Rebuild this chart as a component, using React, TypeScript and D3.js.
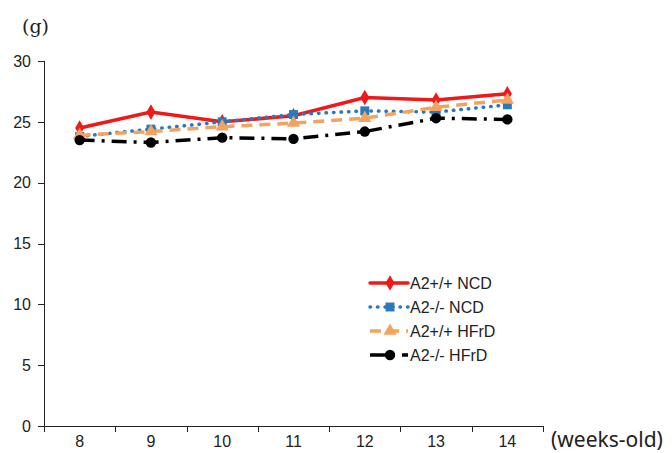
import { useEffect, useRef } from 'react';
import {
  select,
  scaleBand,
  scaleLinear,
  line,
  symbol,
  symbolDiamond,
  symbolSquare,
  symbolTriangle,
  symbolCircle,
} from 'd3';

const weeks = ['8', '9', '10', '11', '12', '13', '14'];
const yTicks = [0, 5, 10, 15, 20, 25, 30];

const a2WtNcd = [24.5, 25.8, 25.0, 25.5, 27.0, 26.8, 27.3];
const a2KoNcd = [23.8, 24.4, 25.0, 25.6, 25.9, 25.8, 26.4];
const a2WtHfrd = [23.9, 24.2, 24.6, 24.9, 25.3, 26.2, 26.8];
const a2KoHfrd = [23.5, 23.3, 23.7, 23.6, 24.2, 25.3, 25.2];

const seriesNames = ['A2+/+ NCD', 'A2-/- NCD', 'A2+/+ HFrD', 'A2-/- HFrD'];

interface SeriesStyle {
  color: string;
  dash: string | null;
  cap: string;
  shape: any;
  size: number;
}

const styles: SeriesStyle[] = [
  { color: '#f01818', dash: null, cap: 'round', shape: symbolDiamond, size: 70 },
  { color: '#2a78bd', dash: '0.5 7', cap: 'round', shape: symbolSquare, size: 80 },
  { color: '#f4a25e', dash: '11 7', cap: 'butt', shape: symbolTriangle, size: 75 },
  { color: '#000000', dash: '15 7 3 7', cap: 'butt', shape: symbolCircle, size: 85 },
];

export default function App() {
  const svgRef = useRef<SVGSVGElement | null>(null);

  useEffect(() => {
    if (!svgRef.current) return;
    const svg = select(svgRef.current);
    svg.selectAll('*').remove();

    const width = 672;
    const height = 453;
    const margin = { top: 61, right: 129, bottom: 27, left: 44 };
    const font = 'Liberation Sans, Arial, sans-serif';
    const allSeries = [a2WtNcd, a2KoNcd, a2WtHfrd, a2KoHfrd];

    const x = scaleBand<string>()
      .domain(weeks)
      .range([margin.left, width - margin.right])
      .padding(0);
    const y = scaleLinear()
      .domain([0, 30])
      .range([height - margin.bottom, margin.top]);
    const cx = (w: string) => (x(w) ?? 0) + x.bandwidth() / 2;

    // axes
    const axis = svg.append('g').attr('stroke', '#222').attr('stroke-width', 1);
    axis
      .append('line')
      .attr('x1', margin.left + 0.5)
      .attr('x2', margin.left + 0.5)
      .attr('y1', y(30))
      .attr('y2', y(0));
    axis
      .append('line')
      .attr('x1', margin.left)
      .attr('x2', width - margin.right)
      .attr('y1', y(0) + 0.5)
      .attr('y2', y(0) + 0.5);

    yTicks.forEach((t) => {
      axis
        .append('line')
        .attr('x1', margin.left - 6)
        .attr('x2', margin.left)
        .attr('y1', Math.round(y(t)) + 0.5)
        .attr('y2', Math.round(y(t)) + 0.5);
      svg
        .append('text')
        .attr('x', margin.left - 13)
        .attr('y', y(t))
        .attr('dy', '0.36em')
        .attr('text-anchor', 'end')
        .attr('font-family', font)
        .attr('font-size', 16)
        .attr('fill', '#222')
        .text(t);
    });

    const bounds = weeks.map((w) => x(w) ?? 0).concat([width - margin.right]);
    bounds.forEach((b) => {
      axis
        .append('line')
        .attr('x1', Math.round(b) + 0.5)
        .attr('x2', Math.round(b) + 0.5)
        .attr('y1', y(0))
        .attr('y2', y(0) + 6);
    });

    weeks.forEach((w) => {
      svg
        .append('text')
        .attr('x', cx(w))
        .attr('y', 447)
        .attr('text-anchor', 'middle')
        .attr('font-family', font)
        .attr('font-size', 16)
        .attr('fill', '#222')
        .text(w);
    });

    svg
      .append('text')
      .attr('x', 551)
      .attr('y', 447)
      .attr('font-family', 'Noto Sans, sans-serif')
      .attr('font-size', 21)
      .attr('fill', '#222')
      .text('(weeks-old)');

    svg
      .append('text')
      .attr('x', 22)
      .attr('y', 33)
      .attr('font-family', 'DejaVu Serif, serif')
      .attr('font-size', 19)
      .attr('fill', '#222')
      .text('(g)');

    // series
    const lineGen = line<number>()
      .x((_, i) => cx(weeks[i]))
      .y((d) => y(d));

    allSeries.forEach((values, si) => {
      const st = styles[si];
      const g = svg.append('g');
      g.append('path')
        .attr('d', lineGen(values))
        .attr('fill', 'none')
        .attr('stroke', st.color)
        .attr('stroke-width', 3.5)
        .attr('stroke-linecap', st.cap)
        .attr('stroke-dasharray', st.dash);
      g.selectAll('path.pt')
        .data(values)
        .join('path')
        .attr('class', 'pt')
        .attr('transform', (d, i) => `translate(${cx(weeks[i])},${y(d)})`)
        .attr('d', symbol().type(st.shape).size(st.size)())
        .attr('fill', st.color);
    });

    // legend
    const legend = svg.append('g').attr('transform', 'translate(370,283)');
    seriesNames.forEach((name, i) => {
      const st = styles[i];
      const row = legend.append('g').attr('transform', `translate(0,${i * 24})`);
      row
        .append('line')
        .attr('x1', 0)
        .attr('x2', 38)
        .attr('y1', 0)
        .attr('y2', 0)
        .attr('stroke', st.color)
        .attr('stroke-width', 3.5)
        .attr('stroke-linecap', st.cap)
        .attr('stroke-dasharray', st.dash);
      row
        .append('path')
        .attr('transform', 'translate(20,0)')
        .attr('d', symbol().type(st.shape).size(st.size)())
        .attr('fill', st.color);
      row
        .append('text')
        .attr('x', 40)
        .attr('y', 0)
        .attr('dy', '0.36em')
        .attr('font-family', font)
        .attr('font-size', 16)
        .attr('fill', '#222')
        .text(name);
    });
  }, []);

  return (
    <svg
      ref={svgRef}
      width={672}
      height={453}
      style={{ position: 'absolute', left: 0, top: 0, background: '#fff' }}
    />
  );
}
